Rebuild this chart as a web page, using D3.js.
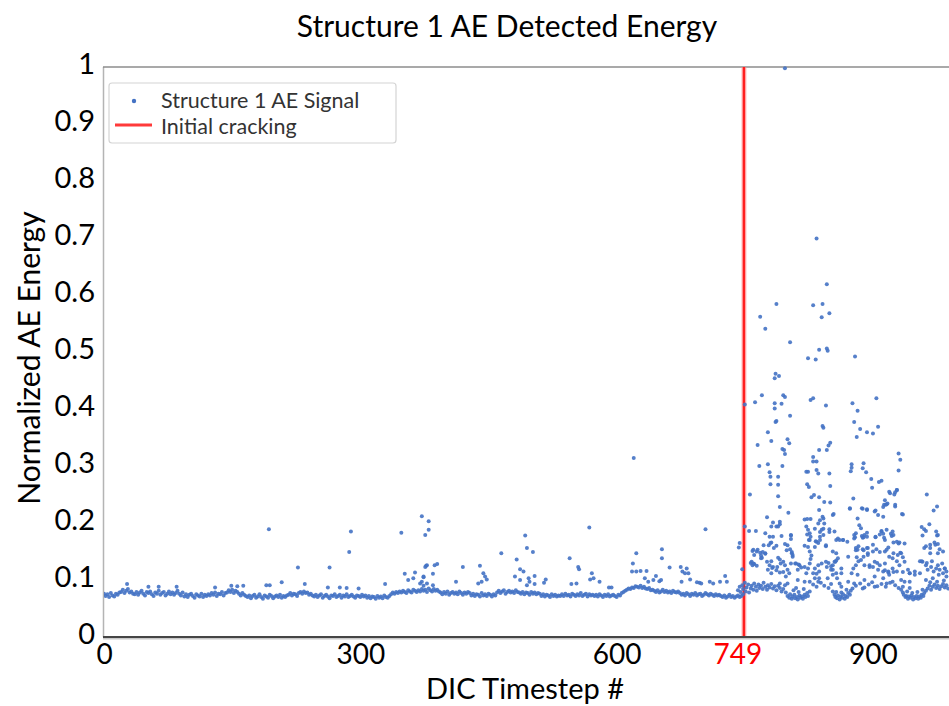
<!DOCTYPE html>
<html>
<head>
<meta charset="utf-8">
<script src="https://cdn.jsdelivr.net/npm/d3@7/dist/d3.min.js"></script>
<style>
  html, body { margin: 0; padding: 0; background: #fff; }
  svg { display: block; }
  text { font-family: Lato, "Open Sans", "Noto Sans", sans-serif; }
</style>
</head>
<body>
<svg id="chart" width="949" height="706"></svg>
<script>
// Axis ticks
const xTicks = [0, 300, 600, 900];
const yTicks = [0, 0.1, 0.2, 0.3, 0.4, 0.5, 0.6, 0.7, 0.8, 0.9, 1];
const crackStep = 749;

// Background AE level, one hit every 2 DIC timesteps from 0 to 748 (energy x 1000)
const baselineEnergy = [
  76,72,75,70,77,73,71,76,74,78,
  79,83,77,81,84,78,80,76,
  75,79,74,78,81,76,73,79,77,80,75,72,78,76,81,74,77,79,73,76,80,75,78,74,77,81,76,73,78,
  71,75,70,74,76,72,69,75,73,71,76,70,74,72,75,
  73,77,74,78,72,76,75,79,73,77,
  78,82,79,83,77,81,79,
  76,73,77,74,72,
  70,73,68,72,74,69,71,75,70,67,73,71,69,74,72,68,71,73,70,74,69,72,70,73,
  74,77,73,76,75,72,77,
  79,76,80,77,78,
  74,76,73,
  71,74,70,73,75,69,72,74,71,68,73,72,75,70,72,74,69,73,71,75,70,72,74,71,69,73,72,70,74,71,73,
  69,72,68,71,70,67,72,69,71,68,73,70,69,72,
  75,78,76,79,77,80,78,81,79,77,82,80,78,83,81,79,82,
  80,84,81,83,79,85,82,80,84,81,83,80,
  78,75,79,76,80,74,77,79,76,78,75,80,77,74,78,76,79,77,
  73,76,72,75,74,71,77,73,75,72,76,74,71,75,73,
  78,81,77,80,82,76,79,81,78,80,77,82,79,78,
  76,79,75,78,77,74,79,76,78,75,77,76,
  72,75,71,74,73,70,75,72,74,71,73,72,
  75,72,76,73,74,71,76,74,72,75,73,77,72,74,76,71,75,73,74,
  72,74,71,75,73,70,74,72,75,71,73,74,72,70,74,73,
  77,79,81,83,85,84,87,86,89,88,87,90,86,88,85,84,86,82,83,
  81,79,82,78,80,83,79,81,78,80,77,81,79,78,80,77,
  74,76,73,77,75,72,76,74,77,73,75,76,72,74,77,75,73,76,74,72,75,73,74,
  72,70,73,69,71,74,70,72,69,71,73,70,72,75
];
const baselineStep = 2;

// Isolated hits before initial cracking: [timestep, normalized energy]
const preCrackHits = [
  [193,.189],[289,.185],[287,.149],[348,.183],[376,.179],[380,.188],[227,.122],[264,.122],
  [377,.125],[352,.111],[364,.113],[362,.103],[356,.100],[374,.105],[372,.097],[208,.096],
  [329,.093],[27,.093],[52,.088],[64,.088],[85,.088],[130,.087],[149,.090],[156,.089],
  [163,.090],[190,.091],[194,.091],[235,.093],[262,.087],[276,.087],[298,.085],[284,.086],
  [372,.212],[380,.203],
  [376,.123],[378,.126],[387,.126],[390,.128],[385,.111],[374,.106],[378,.094],[385,.091],
  [420,.123],[412,.097],[440,.125],[444,.112],[446,.106],[448,.101],[442,.097],[438,.094],
  [465,.147],[483,.136],[487,.119],[491,.115],[493,.178],[495,.156],[502,.149],
  [481,.106],[487,.100],[497,.103],[498,.097],[504,.107],[495,.091],[504,.093],
  [517,.101],[515,.095],[545,.138],[555,.123],[556,.119],[568,.192],[571,.112],[573,.103],
  [569,.101],[580,.097],[547,.093],[553,.094],[594,.087],[591,.087],
  [620,.314],
  [619,.129],[623,.147],[618,.115],[623,.115],[628,.116],[635,.116],[633,.103],[637,.097],[643,.100],
  [653,.154],[653,.138],[646,.107],[650,.098],[652,.100],[662,.122],[675,.123],[682,.120],
  [677,.115],[680,.112],[684,.112],[676,.097],[686,.101],[694,.096],[697,.095],[704,.189],
  [727,.107],[721,.097],[729,.097],[744,.165],[743,.157],[747,.119],[713,.094],[709,.097],
  [699,.094],[370,.094],[374,.090]
];

// Hits after initial cracking: [timestep, normalized energy]
const postCrackHits = [
  [797,.998],[834,.699],
  [846,.619],[787,.584],[830,.582],[841,.584],[849,.568],[840,.561],[768,.562],[774,.541],
  [803,.517],[837,.504],[846,.506],[847,.502],[824,.489],[833,.487],[879,.492],[786,.462],
  [785,.454],[790,.458],[770,.424],[795,.424],[797,.421],[762,.412],[750,.408],[785,.410],
  [793,.409],[785,.401],[827,.416],[830,.419],[845,.406],[876,.410],[882,.397],[904,.419],
  [803,.388],[787,.379],[786,.377],[777,.359],[841,.370],[842,.367],[878,.377],[885,.365],
  [881,.351],[906,.369],[893,.359],[900,.357],[765,.337],[781,.344],[800,.347],[802,.340],
  [794,.330],[796,.328],[797,.321],[850,.341],[848,.336],[846,.328],[837,.328],[830,.316],
  [834,.308],[824,.290],[849,.287],[767,.300],[777,.303],[794,.300],[779,.289],[780,.281],
  [789,.281],[875,.303],[875,.297],[874,.291],[889,.305],[888,.296],[892,.289],[898,.277],
  [907,.272],[910,.274],[899,.262],[930,.322],[932,.311],[930,.292],[928,.258],[926,.254],
  [920,.252],[823,.268],[825,.263],[850,.265],[756,.250],[789,.247],[828,.245],[831,.249],
  [837,.245],[843,.237],[850,.236],[791,.228],[801,.218],[854,.216],[837,.223],[841,.211],
  [877,.243],[873,.225],[888,.225],[893,.224],[903,.222],[913,.232],[916,.233],[914,.240],
  [926,.229],[934,.216],[963,.250],[971,.222],[975,.229],[776,.210],[783,.201],[789,.194],
  [791,.202],[820,.206],[823,.207],[827,.207],
  [764,.150],[760,.153],[768,.148],[757,.130],[759,.126],[761,.128],[755,.186],[763,.186],
  [750,.194],[774,.182],[779,.176],[783,.176],[772,.161],[780,.165],[774,.147],[770,.139],
  [784,.156],[787,.160],[793,.177],[804,.178],[797,.163],[799,.152],[791,.136],[795,.132],
  [805,.147],[806,.141],[804,.129],[779,.126],[782,.121],[787,.117],[791,.113],[809,.129],
  [813,.127],[816,.122],[820,.160],[823,.180],[824,.158],[825,.170],[827,.176],[833,.168],
  [836,.165],[838,.170],[828,.143],[827,.137],[838,.184],[840,.188],[842,.190],[845,.159],
  [830,.112],[834,.111],[837,.103],[848,.130],[851,.124],[853,.118],[857,.134],[849,.184],
  [849,.189],[865,.170],[870,.167],[871,.141],[878,.179],[879,.175],[883,.159],[880,.152],
  [887,.177],[889,.175],[893,.183],[881,.140],[883,.133],[889,.152],[893,.156],[894,.147],
  [903,.175],[908,.180],[900,.162],[904,.154],[910,.186],[913,.174],[921,.181],[922,.177],
  [924,.166],[914,.150],[918,.157],[924,.147],[930,.164],[932,.148],[935,.140],[928,.133],
  [896,.126],[900,.123],[905,.130],[914,.117],[918,.113],[924,.114],[957,.193],[960,.189],
  [958,.178],[966,.198],[962,.186],[967,.162],[973,.162],[978,.154],[975,.178],[972,.166],
  [967,.156],[957,.133],[963,.130],[969,.133],[976,.126],[981,.129],[984,.120],[986,.115],
  [943,.112],[949,.109],[935,.114],
  [780,.268],[789,.267],[781,.194],[787,.194],[791,.198],[804,.179],[804,.172],[781,.166],
  [778,.161],[800,.161],[803,.154],[805,.149],[806,.144],[759,.151],[765,.153],[771,.149],
  [774,.146],[761,.144],[769,.143],[758,.132],[760,.129],[764,.125],[769,.138],[776,.132],
  [781,.133],[789,.139],[788,.123],[792,.129],[783,.123],[777,.118],[781,.112],[797,.126],
  [800,.118],[795,.114],[802,.112],[798,.106],[810,.129],[814,.126],[812,.118],[820,.123],
  [824,.120],[822,.112],[826,.129],[832,.120],[837,.115],[836,.126],[840,.129],[845,.132],
  [846,.123],[851,.118],[853,.126],[856,.132],[857,.112],[853,.109],[847,.103],[858,.103],
  [861,.094],[863,.088],[832,.103],[836,.097],[826,.097],[820,.097],[812,.100],[800,.094],
  [797,.091],[791,.094],[822,.194],[824,.188],[826,.182],[832,.190],[836,.199],[838,.205],
  [842,.208],[843,.199],[838,.176],[842,.179],[834,.167],[826,.170],[845,.161],[832,.158],
  [826,.150],[830,.308],[834,.293],[836,.287],[822,.290],[853,.214],[855,.185],[857,.170],
  [859,.173],[861,.170],[853,.150],[857,.147],[859,.138],[855,.132],[863,.120],[863,.112],
  [865,.170],
  [873,.226],[887,.226],[893,.223],[902,.220],[906,.214],[915,.232],[917,.234],[912,.228],
  [919,.255],[925,.250],[928,.258],[926,.232],[935,.215],[912,.211],[882,.208],[884,.196],
  [886,.191],[890,.179],[893,.176],[888,.174],[880,.182],[878,.173],[903,.176],[912,.181],
  [916,.188],[910,.185],[914,.170],[923,.185],[924,.179],[928,.167],[931,.166],[937,.164],
  [880,.156],[882,.153],[888,.154],[894,.156],[900,.150],[894,.144],[889,.141],[886,.135],
  [908,.149],[916,.153],[919,.141],[923,.138],[929,.144],[933,.147],[880,.126],[877,.120],
  [890,.126],[896,.123],[902,.132],[908,.126],[914,.129],[906,.118],[912,.115],[918,.115],
  [923,.120],[928,.115],[875,.112],[882,.109],[890,.100],[902,.106],[912,.103],[919,.109],
  [923,.097],[916,.094],[902,.088],[888,.085],[871,.097],[878,.094],
  [931,.126],[937,.132],[941,.118],[943,.112],[949,.115],[955,.112],[955,.133],[958,.132],
  [962,.126],[964,.118],[968,.123],[971,.115],[974,.120],[978,.118],[977,.109],[982,.112],
  [984,.120],[986,.106],[970,.103],[962,.100],[960,.156],[962,.159],[967,.147],[976,.147],
  [982,.150],[976,.163],[976,.179],[974,.185],[933,.100],[937,.097],[943,.097],[935,.088],
  // low-energy clusters between bursts
  [742,.082],[744,.088],[745,.079],[747,.091],[748,.084],[750,.095],[751,.080],[752,.087],
  [754,.092],[755,.078],[757,.085],[758,.090],[760,.083],[761,.094],[763,.088],[764,.081],
  [766,.092],[767,.086],[769,.090],[771,.084],[772,.095],[774,.088],[776,.083],[777,.091],
  [779,.087],[781,.093],[783,.085],[785,.089],[787,.082],[789,.090],[791,.086],[793,.080],
  [795,.084],
  [798,.078],[800,.072],[802,.069],[803,.075],[805,.067],[806,.071],[808,.074],[809,.068],
  [811,.070],[812,.066],[814,.073],[815,.069],[817,.071],[818,.067],[820,.074],[821,.070],
  [823,.077],[824,.072],[826,.080],[807,.082],[813,.079],[819,.084],[810,.086],
  [830,.092],[834,.088],[839,.095],[843,.090],[848,.086],[851,.093],
  [853,.080],[855,.074],[856,.070],[858,.068],[859,.073],[861,.066],[862,.071],[864,.069],
  [865,.075],[867,.067],[868,.072],[870,.070],[871,.077],[873,.074],[874,.081],[876,.085],
  [857,.079],[863,.078],[869,.083],
  [880,.090],[885,.094],[890,.087],[895,.092],[899,.096],[905,.089],[910,.093],[915,.088],
  [920,.095],[926,.091],[930,.086],
  [933,.083],[935,.078],[936,.074],[938,.070],[939,.072],[941,.067],[942,.071],[944,.069],
  [945,.073],[947,.066],[948,.070],[950,.068],[951,.072],[953,.067],[954,.071],[956,.069],
  [957,.074],[959,.072],[960,.077],[962,.081],[940,.080],[946,.077],[952,.079],[958,.083],
  [943,.086],
  [964,.085],[966,.090],[968,.083],[970,.088],[972,.092],[974,.086],[976,.090],[978,.084],
  [980,.089],[982,.093],[984,.087],[986,.091],[988,.085],[967,.096],[975,.097],[983,.099]
];

const signalColor = "#4472c4";
const crackColor = "#ff1f1f";

const svg = d3.select("#chart");
const plot = { left: 104, right: 949, top: 67, bottom: 637 };

const x = d3.scaleLinear().domain([0, 989]).range([plot.left, plot.right]);
const y = d3.scaleLinear().domain([0, 1]).range([plot.bottom, plot.top]);

// Title
svg.append("text")
  .attr("x", 507).attr("y", 37)
  .attr("text-anchor", "middle")
  .attr("font-size", 30)
  .attr("fill", "#000")
  .text("Structure 1 AE Detected Energy");

// Plot frame
svg.append("line")
  .attr("x1", plot.left - 0.5).attr("x2", plot.left - 0.5)
  .attr("y1", plot.top).attr("y2", plot.bottom)
  .attr("stroke", "#b4b4b4").attr("stroke-width", 1.5);
svg.append("line")
  .attr("x1", plot.left - 1).attr("x2", plot.right)
  .attr("y1", plot.top).attr("y2", plot.top)
  .attr("stroke", "#8c8c8c").attr("stroke-width", 1.5);

// Y axis labels
const yAxis = d3.axisLeft(y).tickValues(yTicks).tickSize(0).tickPadding(8)
  .tickFormat(d => d === 0 || d === 1 ? String(d) : d3.format(".1f")(d));
const gy = svg.append("g").attr("transform", `translate(${plot.left - 1},-3)`).call(yAxis);
gy.select(".domain").remove();
gy.selectAll("text")
  .attr("font-family", "Lato, sans-serif")
  .attr("font-size", 29)
  .attr("fill", "#000");

// X axis labels
const xAxis = d3.axisBottom(x).tickValues(xTicks).tickSize(0).tickPadding(7)
  .tickFormat(d3.format("d"));
const gx = svg.append("g").attr("transform", `translate(0,${plot.bottom})`).call(xAxis);
gx.select(".domain").remove();
gx.selectAll("text")
  .attr("font-family", "Lato, sans-serif")
  .attr("font-size", 28)
  .attr("fill", "#000");

// Crack onset label on the x axis
svg.append("text")
  .attr("x", x(crackStep) - 6).attr("y", plot.bottom + 7)
  .attr("dy", "0.71em")
  .attr("text-anchor", "middle")
  .attr("font-size", 28)
  .attr("fill", "#ff0000")
  .text(String(crackStep));

// Axis titles
svg.append("text")
  .attr("x", 525).attr("y", 699)
  .attr("text-anchor", "middle")
  .attr("font-size", 29)
  .attr("fill", "#000")
  .text("DIC Timestep #");
svg.append("text")
  .attr("transform", "translate(40,358) rotate(-90)")
  .attr("text-anchor", "middle")
  .attr("font-size", 30)
  .attr("fill", "#000")
  .text("Normalized AE Energy");

// Initial cracking marker
const cg = svg.append("g");
cg.append("line")
  .attr("x1", x(crackStep)).attr("x2", x(crackStep))
  .attr("y1", plot.top).attr("y2", plot.bottom)
  .attr("stroke", "#ff9a9a").attr("stroke-width", 5).attr("opacity", 0.6);
cg.append("line")
  .attr("x1", x(crackStep)).attr("x2", x(crackStep))
  .attr("y1", plot.top).attr("y2", plot.bottom)
  .attr("stroke", crackColor).attr("stroke-width", 2.5);

// AE signal points
const baselineHits = baselineEnergy.map((v, i) => [i * baselineStep, v / 1000]);
const allHits = baselineHits.concat(preCrackHits, postCrackHits);

svg.append("defs").append("clipPath").attr("id", "plotClip")
  .append("rect")
  .attr("x", plot.left).attr("y", plot.top - 3)
  .attr("width", plot.right - plot.left).attr("height", plot.bottom - plot.top + 3);

svg.append("g").attr("clip-path", "url(#plotClip)")
  .selectAll("circle")
  .data(allHits)
  .join("circle")
  .attr("cx", d => x(d[0]))
  .attr("cy", d => y(d[1]))
  .attr("r", 2)
  .attr("fill", signalColor)
  .attr("fill-opacity", 0.9);

// Bottom axis line
svg.append("line")
  .attr("x1", plot.left - 1).attr("x2", plot.right)
  .attr("y1", plot.bottom + 1.5).attr("y2", plot.bottom + 1.5)
  .attr("stroke", "#c8c8c8").attr("stroke-width", 2);
svg.append("line")
  .attr("x1", plot.left - 1).attr("x2", plot.right)
  .attr("y1", plot.bottom).attr("y2", plot.bottom)
  .attr("stroke", "#454545").attr("stroke-width", 2.2);

// Legend
const lg = svg.append("g");
lg.append("rect")
  .attr("x", 109).attr("y", 83).attr("width", 287).attr("height", 60).attr("rx", 3)
  .attr("fill", "#fff").attr("stroke", "#d4d4d4").attr("stroke-width", 1.2);
lg.append("circle").attr("cx", 134).attr("cy", 101).attr("r", 2.2).attr("fill", signalColor);
lg.append("line").attr("x1", 115).attr("x2", 152).attr("y1", 125).attr("y2", 125)
  .attr("stroke", "#ff3a3a").attr("stroke-width", 3);
lg.append("text").attr("x", 161).attr("y", 108).attr("font-size", 21.5).attr("fill", "#333")
  .text("Structure 1 AE Signal");
lg.append("text").attr("x", 161).attr("y", 134).attr("font-size", 21.5).attr("fill", "#333")
  .text("Initial cracking");
</script>
</body>
</html>
